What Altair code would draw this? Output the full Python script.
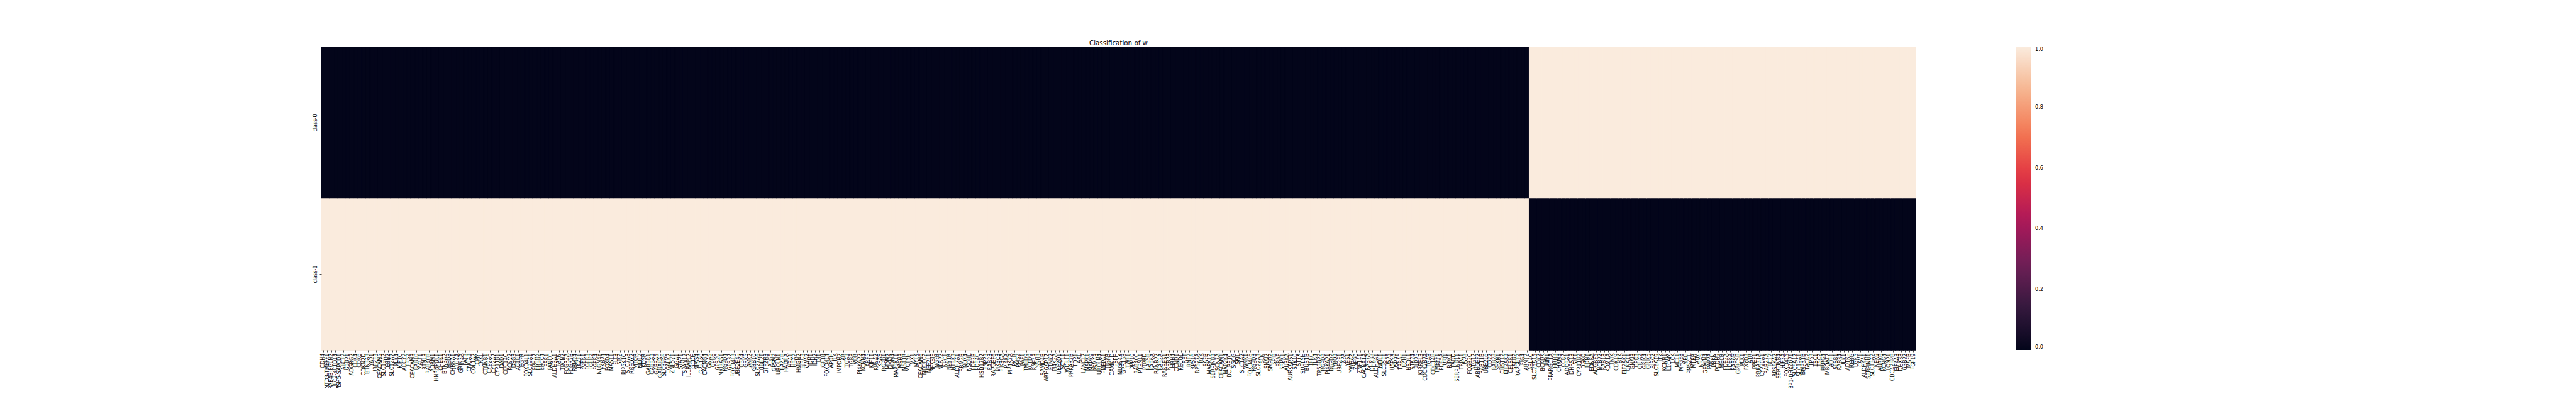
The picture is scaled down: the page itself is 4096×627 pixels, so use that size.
import json
import altair as alt
import pandas as pd

title_text = "Classification of w"
class_labels = ["class-0", "class-1"]

# genes whose row "class-1" is 1 (dark in class-0 row), left block
genes_block_a = [
    "CDH4", "MSANTD3-TMEFF1", "RAB4B-EGLN2", "NDUFC2-KCTD14", "MSH5-SAPCD1", "ABCF2", "G3BP1", "ADGRG2",
    "CDK4", "CDK6", "CDKN2D", "BTN3A3", "YAP1", "UBE2E3", "CEACAM5", "SLC19A2", "ERN2", "SLC12A7", "PLK4",
    "KIF1C", "ADCY2", "FRS2", "CEACAM3", "RAB10", "MALT1", "BTNL3", "RAB40B", "ADRM1", "HNRNPUL1", "CHEK1",
    "BTN3A2", "MED8", "CHRNA1", "ATG4A", "GRIN3A", "FAT3", "CNGA3", "COL1A2", "CPM", "CRKL", "CTNNB1",
    "CYP2A6", "CYP2A7", "CYP11B1", "DAD1",
    "CDC14C", "KCNV2", "DSG3", "AGTR1", "EGFR", "FOXD4L1", "SLC29A1", "EPHA7", "ERBB2", "ERCC4", "ESR1",
    "FANCC", "ALDH3A1", "FASN", "TPCN2", "FCGR2A", "FCGR2B", "RBM24", "JAZF1", "FGFR1", "FGFR3", "FGFR2",
    "FGFR4", "NLGN4Y", "FKBP4", "FOXD4", "MAST1", "FLT3", "SIK2", "PIP5K1C", "SLC7A8", "RBFOX2", "MTOR",
    "NEIL2", "KDSR", "GABBR1", "GABRA3", "GABRA5", "GABARAP", "SLC39A6", "GALK2", "ZNF521", "GGA1", "STAP1",
    "TSPAN17", "IL1RAPL2", "GCDH", "NPAS4", "GPR160", "CACNG4", "GNAS", "GPR6", "GPR20", "NKIRAS1", "RGPD4",
    "GPR37", "FOXD4L3", "UBE2E4P",
    "GRK4", "GRK5", "ANK2", "GRB10", "SLC27A6", "UBE2T", "GTF2H3", "ALG5", "GPSM2", "UBQLN1", "BAZ2B",
    "HADHA", "HBA1", "HBA2", "HMGN2", "BIRC3", "VWA2", "IDH1", "IDH2", "IDI1", "IGF1R", "FOXD4L4", "APOH",
    "ILK", "IMPDH2", "AR", "ITGA3", "ITGB8", "VDR", "PI4KAP2", "KCNN4", "ARF5", "KIF11", "KPNA2", "KRAS",
    "RGPD1", "MDM2", "MDM4", "MAP3K11", "MSH3", "MST1R", "MUTYH", "MX1", "MYLK", "CEACAM6", "NDUFC2",
    "NFE2L1", "NFKBIE", "NGFR", "NLRP2", "NPC1", "NPY1R", "NTRK3", "ALDH7A1", "RRM2B", "NOX4", "NSDHL",
    "PDE3B",
    "PDE4C", "HSD17B7", "ENPP3", "RAB23", "RAPGEF6", "PIK3C3", "PIK3CA", "PI4KA", "PIP4K2A", "PKLR", "PMS2",
    "PAF1", "TMED9", "KCTD9", "RNF43", "SSH3", "SAMD4B", "ARHGAP17", "ETNK2", "PI4K2A", "UBE2Q1", "SCYL1",
    "WDR11", "PRKAR2B", "TDP1", "AXL", "LANCL2", "MAPK1", "MAPK9", "PSMA3", "UBQLN4", "PMEPA1", "TIGAR",
    "CAMK1D", "PSPH", "NLGN4X", "GPR158", "TWF1", "DPP10", "RAB40C", "PTPN11", "PTPRD", "RAB5B", "RAB6A",
    "RANBP2", "RAB2A", "RARRES1", "RBBP8", "HRH4", "CCND1", "RECQL", "RET", "RNF2", "RPS16", "RPS27A",
    "RYK", "SAFB", "MAPK12",
    "SERPINB3", "SCN7A", "CEACAM1", "MAP2K4", "DCLRE1C", "SGCG", "SKIL", "SLC1A2", "WNK1", "FOXD4L6",
    "RGPD3", "SLC22A3", "SLN", "SNAI2", "SMPD2", "SPIB", "BRAF", "SRPK1", "AURKA", "AURKAPS1", "STK10",
    "STYX", "SUPT5H", "BUB1B", "TFRC", "TLR4", "TP53BP2", "RGPD8", "PI4KAP1", "RGPD2", "TYRO3", "UBE2E1",
    "XPA", "YES1", "YWHAZ", "ZNF90", "ZNF141", "CACNA1A", "RAB7A", "DHX38", "ALDH5A1", "NEIL1", "SLC35E1",
    "USP5", "USP9X", "USP9Y", "TRRAP", "EZH1", "HSDL1", "STK24", "PLPP5", "KIRREL3", "CDC42BPA", "ITGA8",
    "CDC14B", "TMEFF1", "PDE5A", "URI1", "RIPK1", "FADD", "SERPINB11",
    "TRPA1", "USP8", "FCGR2C", "ATG12", "ARHGEF2", "RAB11B", "UBE2L6", "CD22", "RAB28", "SFXN1", "CHST12",
    "EIF2AK3", "CELSR1", "SAFB2", "RAPGEF2", "FIG4", "ARNT2",
]

# genes whose row "class-0" is 1, right block
genes_block_b = [
    "ARL4C", "SLC25A15", "CDK2", "BCKDK", "PIM1", "PPARGC1A", "HRH3", "CHRM3", "CCR7", "ADORA1", "DHRS13",
    "SIK1", "CYP11B2", "DGKQ", "EDN1", "EDNRA", "ADGRF5", "NCBP2", "RAB18", "KDM1A", "TNIK", "CDK19", "IBTK",
    "EIF2AK1", "GNA11", "GNAI3", "GPR3", "GRIA2", "GRIK4", "GRIK5", "BIRC2",
    "SLC6A19", "ITK", "KCNN1", "L1CAM", "LCK", "MCL1", "MFGE8", "MPG", "PMS2CL", "MTRR", "ATM", "NRAS",
    "GEMIN4", "PAPPA", "PRKN", "PCDH9", "MECR", "PDE2A", "PDE8A", "RAB6B", "GPRC5B", "PLK1", "FXYD3", "ATR",
    "PPEF1", "PRKAR1A", "CYP20A1", "RAB27A", "BCL2", "RPS6KA2", "SERPINB4", "HIF3A", "FOXD4L5",
    "TBC1D3P1-DHX40P1", "SLC6A12", "SLC19A1", "BMPR1B", "TACR2", "TP53",
    "TSC1", "TSC2", "PRRG4", "MBOAT7", "JADE1", "SPSB1", "RAB34", "ULK1", "ADTRP", "RERG", "LGR5", "CAV1",
    "ALDH4A1", "SERPINH1", "SLC13A2", "NEK9", "AURKB", "KCNG4", "LONP1", "CDC42BPB", "EIF4A3", "DHX38",
    "G3BP2", "MAFB", "FGF19",
]

# cell values per block: (class-0, class-1)
block_a_values = (0, 1)
block_b_values = (1, 0)

rocket = ["#03051A", "#35193E", "#701F57", "#AD1759", "#E13342", "#F37651", "#F6B48F", "#FAEBDD"]

genes = genes_block_a + genes_block_b
rows = []
for i, g in enumerate(genes):
    vals = block_a_values if i < len(genes_block_a) else block_b_values
    for cls, v in zip(class_labels, vals):
        rows.append({"idx": i, "gene": g, "cls": cls, "value": v})
df = pd.DataFrame(rows)

label_expr = "[" + ",".join(json.dumps(g) for g in genes) + "][datum.value]"

FONT = "DejaVu Sans"
color_scale = alt.Scale(domain=[0, 1], range=rocket, interpolate="rgb")

chart = alt.Chart(df).mark_rect(strokeWidth=1.4).encode(
    x=alt.X(
        "idx:O",
        scale=alt.Scale(paddingInner=0, paddingOuter=0),
        axis=alt.Axis(
            title=None, labelExpr=label_expr, labelAngle=-90, labelFont=FONT, labelFontSize=8.1,
            labelColor="black", labelPadding=2, tickSize=3, tickColor="black", tickWidth=0.7,
            domain=False, labelOverlap=False, labelLimit=0, labelBound=False, labelFlush=False,
        ),
    ),
    y=alt.Y(
        "cls:N",
        sort=class_labels,
        scale=alt.Scale(paddingInner=0, paddingOuter=0),
        axis=alt.Axis(
            title=None, labelAngle=-90, labelAlign="center", labelBaseline="bottom", labelFont=FONT,
            labelFontSize=8.1, labelColor="black", labelPadding=3, tickSize=3, tickColor="black",
            tickWidth=0.7, domain=False,
        ),
    ),
    color=alt.Color(
        "value:Q",
        scale=color_scale,
        legend=alt.Legend(
            type="gradient", orient="none", legendX=2695, legendY=0, title=None, direction="vertical",
            gradientLength=482, gradientThickness=24, tickCount=5, format=".1f",
            labelFont=FONT, labelFontSize=8.1, labelColor="black", labelOffset=6, padding=0,
            gradientStrokeWidth=0, labelBaseline="middle",
        ),
    ),
    stroke=alt.condition("datum.value > 0.5", alt.value(rocket[-1]), alt.value(rocket[0])),
).properties(
    width=2535,
    height=482,
    title=alt.TitleParams(
        title_text, font=FONT, fontSize=10.3, fontWeight="normal", color="black",
        anchor="middle", offset=5, baseline="alphabetic", dy=13,
    ),
    autosize=alt.AutoSizeParams(type="none"),
    padding={"left": 503, "top": 67, "right": 1030, "bottom": 60},
).configure_view(stroke=None).configure(background="white")

chart.save("out.html", embed_options={"renderer": "svg", "actions": False})
